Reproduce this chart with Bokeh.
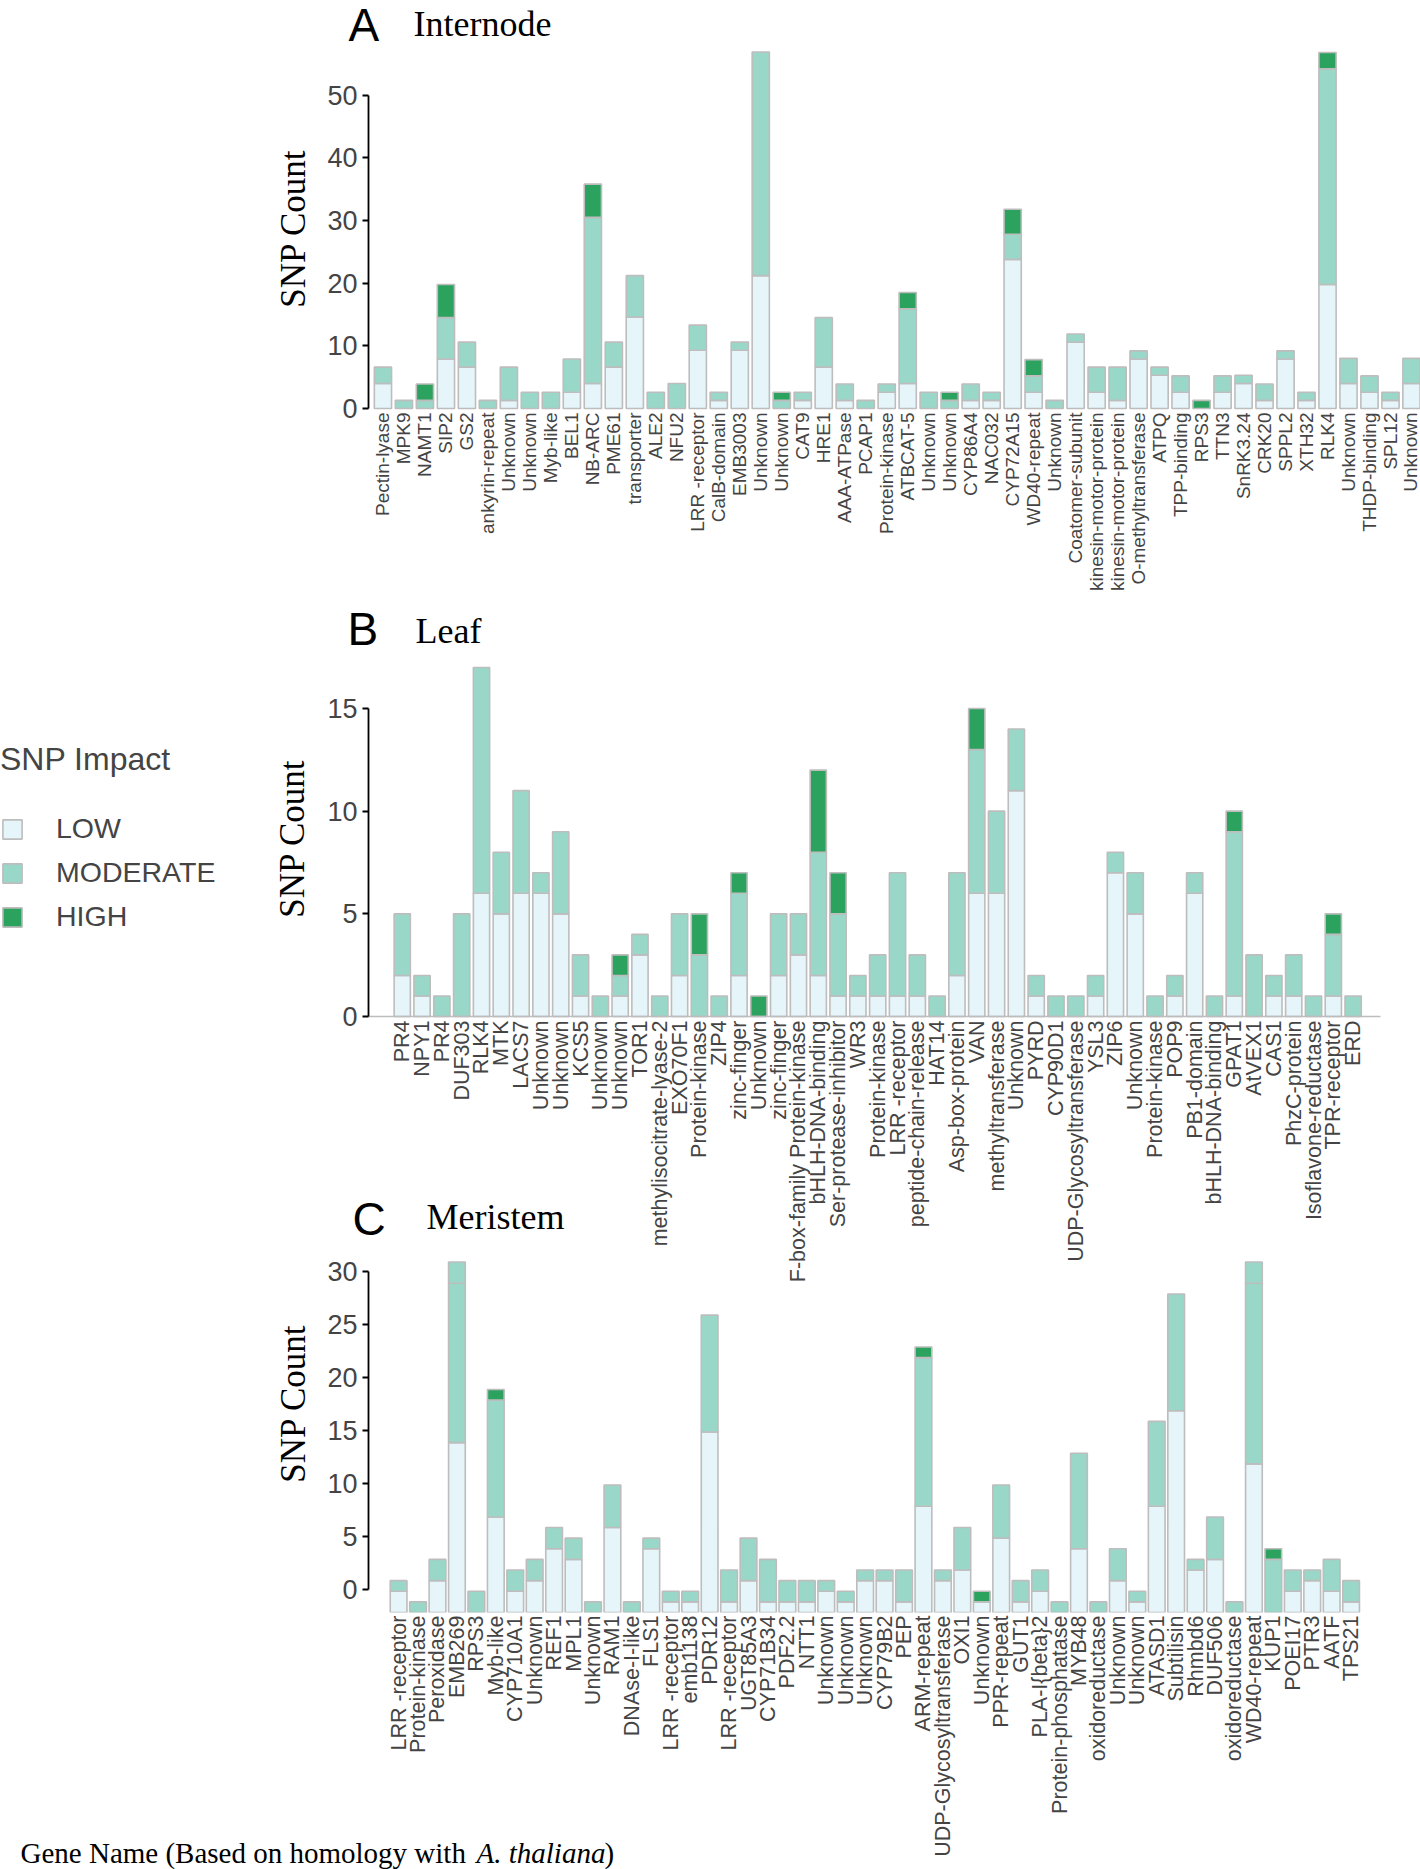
import math
import numpy as np
from bokeh.plotting import figure
from bokeh.models import Range1d, FixedTicker, ColumnDataSource, Label, Legend, LegendItem, LinearAxis
from bokeh.layouts import column
from bokeh.embed import file_html
from bokeh.resources import INLINE

# ---------------- data ----------------
# Panel A (Internode) - values as read on the drawn axis
A_genes = ["Pectin-lyase", "MPK9", "NAMT1", "SIP2", "GS2", "ankyrin-repeat", "Unknown", "Unknown",
           "Myb-like", "BEL1", "NB-ARC", "PME61", "transporter", "ALE2", "NFU2", "LRR -receptor",
           "CalB-domain", "EMB3003", "Unknown", "Unknown", "CAT9", "HRE1", "AAA-ATPase", "PCAP1",
           "Protein-kinase", "ATBCAT-5", "Unknown", "Unknown", "CYP86A4", "NAC032", "CYP72A15",
           "WD40-repeat", "Unknown", "Coatomer-subunit", "kinesin-motor-protein", "kinesin-motor-protein",
           "O-methyltransferase", "ATPQ", "TPP-binding", "RPS3", "TTN3", "SnRK3.24", "CRK20", "SPPL2",
           "XTH32", "RLK4", "Unknown", "THDP-binding", "SPL12", "Unknown"]
A_low = [4.0, 0, 0, 7.9, 6.6, 0, 1.3, 0, 0, 2.6, 4.0, 6.6, 14.6, 0, 0, 9.3, 1.3, 9.3, 21.2, 0,
         1.3, 6.6, 1.3, 0, 2.6, 4.0, 0, 0, 1.3, 1.3, 23.8, 2.6, 0, 10.6, 2.6, 1.3, 7.9, 5.3, 2.6, 0,
         2.6, 4.0, 1.3, 7.9, 1.3, 19.8, 4.0, 2.6, 1.3, 4.0]
A_mod = [2.6, 1.3, 1.3, 6.6, 4.0, 1.3, 5.3, 2.6, 2.6, 5.3, 26.5, 4.0, 6.6, 2.6, 4.0, 4.0, 1.3, 1.3, 35.7, 1.3,
         1.3, 7.9, 2.6, 1.3, 1.3, 11.9, 2.6, 1.3, 2.6, 1.3, 4.0, 2.6, 1.3, 1.3, 4.0, 5.3, 1.3, 1.3, 2.6, 0,
         2.6, 1.3, 2.6, 1.3, 1.3, 34.4, 4.0, 2.6, 1.3, 4.0]
A_high = [0, 0, 2.6, 5.3, 0, 0, 0, 0, 0, 0, 5.3, 0, 0, 0, 0, 0, 0, 0, 0, 1.3,
          0, 0, 0, 0, 0, 2.6, 0, 1.3, 0, 0, 4.0, 2.6, 0, 0, 0, 0, 0, 0, 0, 1.3,
          0, 0, 0, 0, 0, 2.6, 0, 0, 0, 0]

# Panel B (Leaf)
B_genes = ["PR4", "NPY1", "PR4", "DUF303", "RLK4", "MTK", "LACS7", "Unknown", "Unknown", "KCS5",
           "Unknown", "Unknown", "TOR1", "methylisocitrate-lyase-2", "EXO70F1", "Protein-kinase", "ZIP4",
           "zinc-finger", "Unknown", "zinc-finger", "F-box-family Protein-kinase", "bHLH-DNA-binding",
           "Ser-protease-inhibitor", "WR3", "Protein-kinase", "LRR -receptor", "peptide-chain-release",
           "HAT14", "Asp-box-protein", "VAN", "methyltransferase", "Unknown", "PYRD", "CYP90D1",
           "UDP-Glycosyltransferase", "YSL3", "ZIP6", "Unknown", "Protein-kinase", "POP9", "PB1-domain",
           "bHLH-DNA-binding", "GPAT1", "AtVEX1", "CAS1", "PhzC-protein", "Isoflavone-reductase",
           "TPR-receptor", "ERD"]
B_low = [2, 1, 0, 0, 6, 5, 6, 6, 5, 1, 0, 1, 3, 0, 2, 0, 0, 2, 0, 2, 3, 2, 1, 1, 1, 1, 1, 0, 2, 6,
         6, 11, 1, 0, 0, 1, 7, 5, 0, 1, 6, 0, 1, 0, 1, 1, 0, 1, 0]
B_mod = [3, 1, 1, 5, 11, 3, 5, 1, 4, 2, 1, 1, 1, 1, 3, 3, 1, 4, 0, 3, 2, 6, 4, 1, 2, 6, 2, 1, 5, 7,
         4, 3, 1, 1, 1, 1, 1, 2, 1, 1, 1, 1, 8, 3, 1, 2, 1, 3, 1]
B_high = [0, 0, 0, 0, 0, 0, 0, 0, 0, 0, 0, 1, 0, 0, 0, 2, 0, 1, 1, 0, 0, 4, 2, 0, 0, 0, 0, 0, 0, 2,
          0, 0, 0, 0, 0, 0, 0, 0, 0, 0, 0, 0, 1, 0, 0, 0, 0, 1, 0]

# Panel C (Meristem) - SNP counts; bars rise from the drawn baseline C_BASE
C_genes = ["LRR -receptor", "Protein-kinase", "Peroxidase", "EMB269", "RPS3", "Myb-like", "CYP710A1",
           "Unknown", "REF1", "MPL1", "Unknown", "RAM1", "DNAse-I-like", "FLS1", "LRR -receptor",
           "emb1138", "PDR12", "LRR -receptor", "UGT85A3", "CYP71B34", "PDF2.2", "NTT1", "Unknown",
           "Unknown", "Unknown", "CYP79B2", "PEP", "ARM-repeat", "UDP-Glycosyltransferase", "OXI1",
           "Unknown", "PPR-repeat", "GUT1", "PLA-I{beta}2", "Protein-phosphatase", "MYB48",
           "oxidoreductase", "Unknown", "Unknown", "ATASD1", "Subtilisin", "Rhmbd6", "DUF506",
           "oxidoreductase", "WD40-repeat", "KUP1", "POEI17", "PTR3", "AATF", "TPS21"]
C_low = [2, 0, 3, 16, 0, 9, 2, 3, 6, 5, 0, 8, 0, 6, 1, 1, 17, 1, 3, 1, 1, 1, 2, 1, 3, 3, 1, 10, 3, 4,
         1, 7, 1, 2, 0, 6, 0, 3, 1, 10, 19, 4, 5, 0, 14, 0, 2, 3, 2, 1]
C_mod = [1, 1, 2, 15, 2, 11, 2, 2, 2, 2, 1, 4, 1, 1, 1, 1, 11, 3, 4, 4, 2, 2, 1, 1, 1, 1, 3, 14, 1, 4,
         0, 5, 2, 2, 1, 9, 1, 3, 1, 8, 11, 1, 4, 1, 17, 5, 2, 1, 3, 2]
C_mod2 = [0, 0, 0, 2, 0, 0, 0, 0, 0, 0, 0, 0, 0, 0, 0, 0, 0, 0, 0, 0, 0, 0, 0, 0, 0, 0, 0, 0, 0, 0,
          0, 0, 0, 0, 0, 0, 0, 0, 0, 0, 0, 0, 0, 0, 2, 0, 0, 0, 0, 0]
C_high = [0, 0, 0, 0, 0, 1, 0, 0, 0, 0, 0, 0, 0, 0, 0, 0, 0, 0, 0, 0, 0, 0, 0, 0, 0, 0, 0, 1, 0, 0,
          1, 0, 0, 0, 0, 0, 0, 0, 0, 0, 0, 0, 0, 0, 0, 1, 0, 0, 0, 0]
C_BASE = -2.13

A_ticks = [0, 10, 20, 30, 40, 50]
B_ticks = [0, 5, 10, 15]
C_ticks = [0, 5, 10, 15, 20, 25, 30]

# ---------------- style ----------------
COL_LOW, COL_MOD, COL_HIGH = "#e5f5f9", "#99d8c9", "#2ca25f"
EDGE = "#bdbdbd"
SANS = "Liberation Sans"
SERIF = "Liberation Serif"
W = 1420


def panel(genes, layers, base, height, frame_bottom, xr, yr, yticks, yfix,
          label_size="21.5px", standoff=4, bar_w=0.82):
    p = figure(width=W, height=height, x_range=Range1d(*xr), y_range=Range1d(*yr),
               output_backend="svg", toolbar_location=None,
               min_border_left=0, min_border_right=0, min_border_top=0,
               min_border_bottom=height - frame_bottom)
    p.background_fill_color = None
    p.border_fill_color = None
    p.outline_line_color = None
    p.xgrid.visible = False
    p.ygrid.visible = False
    n = len(genes)
    x = np.arange(n)
    bottom = np.full(n, base, dtype=float)
    rends = {}
    for name, vals, color in layers:
        v = np.asarray(vals, dtype=float)
        top = bottom + v
        m = v > 0
        src = ColumnDataSource(dict(x=x[m], bottom=bottom[m], top=top[m]))
        r = p.vbar(x="x", bottom="bottom", top="top", width=bar_w, source=src,
                   fill_color=color, line_color=EDGE, line_width=1.6)
        rends.setdefault(name, r)
        bottom = top
    # y axis, drawn at a fixed place inside the (full-width) frame
    ya = p.yaxis[0]
    ya.fixed_location = yfix
    ya.ticker = FixedTicker(ticks=yticks, minor_ticks=[])
    ya.bounds = (yticks[0], yticks[-1])
    ya.axis_line_color = "black"
    ya.axis_line_width = 1.8
    ya.major_tick_line_width = 1.8
    ya.major_tick_out = 6
    ya.major_tick_in = 0
    ya.minor_tick_line_color = None
    ya.major_label_text_font = SANS
    ya.major_label_text_font_size = "27px"
    ya.major_label_standoff = 5
    # x axis (gene names)
    xa = p.xaxis[0]
    xa.ticker = FixedTicker(ticks=list(range(n)), minor_ticks=[])
    xa.major_label_overrides = {i: g for i, g in enumerate(genes)}
    xa.major_label_orientation = math.pi / 2
    xa.major_label_text_font = SANS
    xa.major_label_text_font_size = label_size
    xa.major_label_standoff = standoff
    xa.major_tick_line_color = None
    xa.minor_tick_line_color = None
    xa.major_tick_out = 0
    xa.axis_line_color = None
    return p, rends


def add_text(p, x, y, text, font, size, angle=0.0, align="left", style="normal"):
    p.add_layout(Label(x=x, y=y, x_units="canvas", y_units="canvas", text=text,
                       text_font=font, text_font_size=size, text_font_style=style,
                       text_align=align, text_baseline="middle", angle=angle,
                       text_color="black"))


# ---------------- panel A ----------------
pA, _ = panel(A_genes, [("LOW", A_low, COL_LOW), ("MODERATE", A_mod, COL_MOD), ("HIGH", A_high, COL_HIGH)],
              0.0, 600, 424, (-18.22, 49.43), (-2.553, 65.11), A_ticks, -0.69,
              label_size="19px", standoff=-12)
add_text(pA, 348, 24, "A", SANS, "46px")
add_text(pA, 413, 23, "Internode", SERIF, "36px")
add_text(pA, 293, 228, "SNP Count", SERIF, "35px", angle=math.pi / 2, align="center")

# ---------------- panel B ----------------
pB, rB = panel(B_genes, [("LOW", B_low, COL_LOW), ("MODERATE", B_mod, COL_MOD), ("HIGH", B_high, COL_HIGH)],
               0.0, 690, 432, (-20.28, 51.40), (-0.779, 20.26), B_ticks, -1.70, standoff=-12)
base_axis = LinearAxis(fixed_location=0, bounds=(-1.70, 49.38),
                       ticker=FixedTicker(ticks=[], minor_ticks=[]),
                       axis_line_color=EDGE, axis_line_width=1.5,
                       major_tick_line_color=None, minor_tick_line_color=None,
                       major_label_text_font_size="0px")
pB.add_layout(base_axis, "below")
add_text(pB, 347, 28, "B", SANS, "46px")
add_text(pB, 415, 30, "Leaf", SERIF, "36px")
add_text(pB, 292, 238, "SNP Count", SERIF, "35px", angle=math.pi / 2, align="center")

legend = Legend(items=[LegendItem(label="LOW", renderers=[rB["LOW"]]),
                       LegendItem(label="MODERATE", renderers=[rB["MODERATE"]]),
                       LegendItem(label="HIGH", renderers=[rB["HIGH"]])],
                location=(0, 99), title="SNP Impact",
                title_text_font=SANS, title_text_font_size="32px", title_text_font_style="normal",
                title_standoff=34,
                label_text_font=SANS, label_text_font_size="28.5px",
                glyph_width=24, glyph_height=24, label_standoff=32, spacing=11,
                padding=0, margin=0, border_line_color=None, background_fill_alpha=0)
pB.add_layout(legend)

# ---------------- panel C ----------------
pC, _ = panel(C_genes, [("LOW", C_low, COL_LOW), ("MODERATE", C_mod, COL_MOD), ("MODERATE2", C_mod2, COL_MOD),
                        ("HIGH", C_high, COL_HIGH)],
              C_BASE, 679, 422, (-20.48, 52.57), (C_BASE, 37.61), C_ticks, -1.553, standoff=3, bar_w=0.86)
pC.margin = (-100, 0, 0, 0)
add_text(pC, 352, 28, "C", SANS, "46px")
add_text(pC, 426, 26, "Meristem", SERIF, "36px")
add_text(pC, 293, 213, "SNP Count", SERIF, "35px", angle=math.pi / 2, align="center")

# ---------------- footer (x-axis title) ----------------
pF = figure(width=700, height=40, x_range=Range1d(0, 1), y_range=Range1d(0, 1),
            output_backend="svg", toolbar_location=None,
            min_border_left=0, min_border_right=0, min_border_top=0, min_border_bottom=0)
pF.axis.visible = False
pF.grid.visible = False
pF.outline_line_color = None
pF.background_fill_color = None
pF.border_fill_color = None
pF.margin = (-40, 0, 0, 0)
add_text(pF, 20, 23, "Gene Name (Based on homology with ", SERIF, "29px")
add_text(pF, 476, 23, "A. thaliana", SERIF, "29px", style="italic")
add_text(pF, 604, 23, ")", SERIF, "29px")

layout = column(pA, pB, pC, pF)
open("out.html", "w").write(file_html(layout, INLINE))
